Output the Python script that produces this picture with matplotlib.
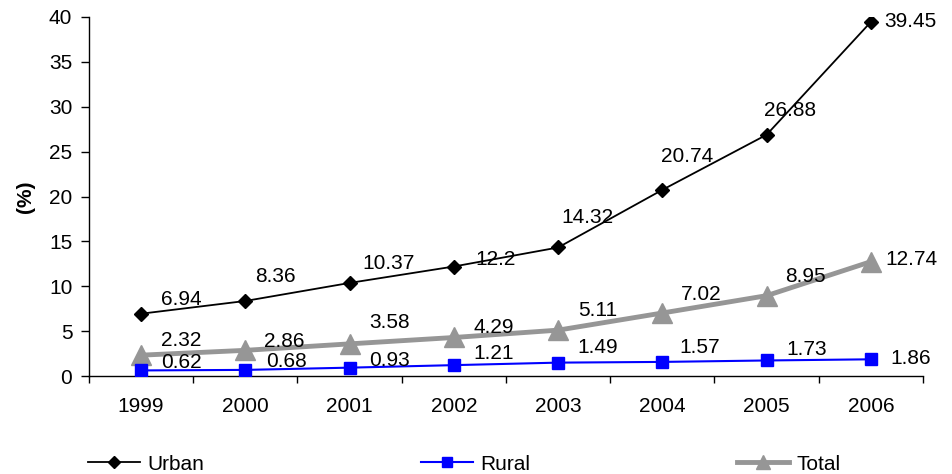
import matplotlib
matplotlib.use("Agg")

import matplotlib.pyplot as plt
from matplotlib.lines import Line2D

plt.rcParams["font.family"] = ["Liberation Sans", "DejaVu Sans"]

years = ["1999", "2000", "2001", "2002", "2003", "2004", "2005", "2006"]
urban = [6.94, 8.36, 10.37, 12.2, 14.32, 20.74, 26.88, 39.45]
rural = [0.62, 0.68, 0.93, 1.21, 1.49, 1.57, 1.73, 1.86]
total = [2.32, 2.86, 3.58, 4.29, 5.11, 7.02, 8.95, 12.74]

# label offsets from each point, in pixels
urban_off = [(40, 14), (30, 24), (39, 19), (42, 7), (29, 30), (25, 33), (23, 24), (40, 0)]
rural_off = [(40, 8), (41, 8), (40, 7), (40, 12), (40, 15), (37, 14), (40, 11), (40, 1)]
total_off = [(40, 15), (39, 9), (40, 21), (40, 10), (40, 20), (39, 18), (39, 19), (41, 2)]

GRAY = "#969696"
BLUE = "#0000FF"
FS = 15
LABEL_FS = 15

fig = plt.figure(figsize=(9.53, 4.74), dpi=100)
ax = fig.add_axes([89 / 953, 1 - 376 / 474, (923 - 89) / 953, (376 - 17) / 474])

x = list(range(len(years)))
ax.plot(x, total, color=GRAY, lw=3.5, marker="^", ms=14, mec=GRAY, mfc=GRAY, zorder=2)
ax.plot(x, rural, color=BLUE, lw=1.5, marker="s", ms=8, mec=BLUE, mfc=BLUE, zorder=3)
ax.plot(x, urban, color="black", lw=1.3, marker="D", ms=7.5, mec="black", mfc="black", zorder=4)

for vals, offs in ((urban, urban_off), (rural, rural_off), (total, total_off)):
    for xi, v, (dx, dy) in zip(x, vals, offs):
        ax.annotate(f"{v:g}", (xi, v), xytext=(dx, dy), textcoords="offset pixels",
                    ha="center", va="center", fontsize=LABEL_FS, zorder=5)

ax.set_xlim(-0.5, len(years) - 0.5)
ax.set_ylim(0, 40)
ax.set_yticks(range(0, 41, 5))
ax.set_xticks(x)
ax.set_xticklabels(years)
ax.set_xticks([i - 0.5 for i in range(len(years) + 1)], minor=True)
ax.tick_params(axis="x", which="major", length=0, pad=15, labelsize=FS)
ax.tick_params(axis="x", which="minor", length=5, width=1, direction="out")
ax.tick_params(axis="y", length=6, width=1, direction="out", pad=6, labelsize=FS)

for s in ("top", "right"):
    ax.spines[s].set_visible(False)
for s in ("left", "bottom"):
    ax.spines[s].set_linewidth(1.0)
ax.set_ylabel("(%)", fontsize=FS, fontweight="bold", labelpad=10)

handles = [
    (Line2D([], [], color="black", lw=1.3, marker="D", ms=6), "Urban", 88),
    (Line2D([], [], color=BLUE, lw=1.5, marker="s", ms=7), "Rural", 421),
    (Line2D([], [], color=GRAY, lw=3.5, marker="^", ms=10), "Total", 737),
]
for h, name, px in handles:
    fig.legend([h], [name], loc="center left", bbox_to_anchor=(px / 953, 1 - 464 / 474),
               frameon=False, fontsize=FS, handlelength=2.5, handletextpad=0.35,
               borderpad=0, borderaxespad=0)

fig.savefig("out.png", dpi=100)
plt.close(fig)
